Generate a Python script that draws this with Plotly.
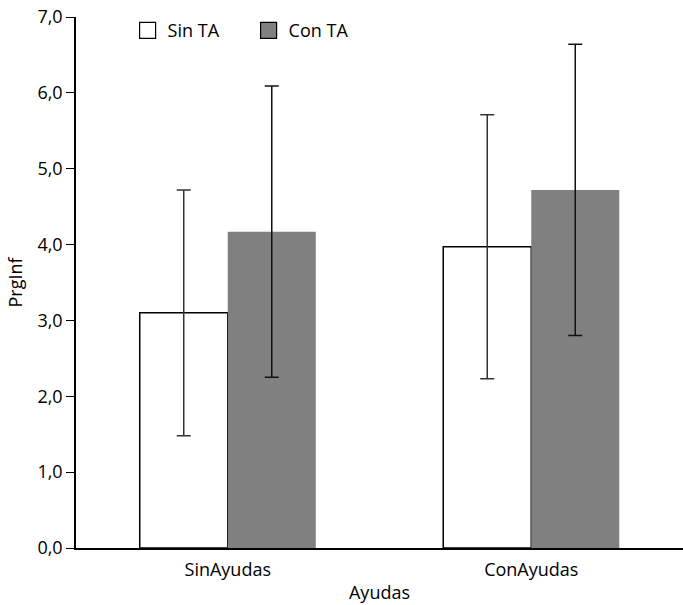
import plotly.graph_objects as go

categories = ["SinAyudas", "ConAyudas"]
sin_ta = [3.10, 3.97]
sin_ta_err = [1.62, 1.74]
con_ta = [4.17, 4.72]
con_ta_err = [1.92, 1.92]
tick_vals = [0, 1, 2, 3, 4, 5, 6, 7]
tick_text = ["0,0", "1,0", "2,0", "3,0", "4,0", "5,0", "6,0", "7,0"]

FONT = "Open Sans"

fig = go.Figure()
fig.add_trace(go.Bar(
    x=categories, y=sin_ta, name="Sin TA", showlegend=False,
    marker=dict(color="white", line=dict(color="black", width=1.5)),
    error_y=dict(type="data", array=sin_ta_err, visible=True,
                 color="#333333", thickness=1.5, width=7),
))
fig.add_trace(go.Bar(
    x=categories, y=con_ta, name="Con TA", showlegend=False,
    marker=dict(color="#808080", line=dict(width=0)),
    error_y=dict(type="data", array=con_ta_err, visible=True,
                 color="#111111", thickness=1.5, width=7),
))
# legend entries
fig.add_trace(go.Scatter(
    x=[None], y=[None], mode="markers", name="Sin TA",
    marker=dict(symbol="square", size=16, color="white",
                line=dict(color="black", width=1.2)),
))
fig.add_trace(go.Scatter(
    x=[None], y=[None], mode="markers", name="Con TA",
    marker=dict(symbol="square", size=16, color="#808080",
                line=dict(color="black", width=1.2)),
))

fig.update_layout(
    width=683, height=605,
    margin=dict(l=76, r=0, t=17, b=57),
    paper_bgcolor="white", plot_bgcolor="white",
    barmode="group", bargap=0.42, bargroupgap=0,
    font=dict(family=FONT, size=18, color="black"),
    showlegend=True,
    legend=dict(orientation="h", x=0.085, y=1.009, xanchor="left", yanchor="top",
                font=dict(size=18), bgcolor="rgba(0,0,0,0)",
                itemwidth=30, entrywidth=76, entrywidthmode="pixels",
                tracegroupgap=0),
    xaxis=dict(
        type="category", range=[-0.5, 1.5],
        showline=True, linecolor="black", linewidth=1.5,
        ticks="", showgrid=False, zeroline=False,
        ticklabelstandoff=5,
        title=dict(text="Ayudas", standoff=6, font=dict(size=18)),
        tickfont=dict(size=18),
    ),
    yaxis=dict(
        range=[0, 7], tickvals=tick_vals, ticktext=tick_text,
        showline=True, linecolor="black", linewidth=1.5,
        ticks="outside", ticklen=8, tickwidth=1.2, tickcolor="black",
        showgrid=False, zeroline=False,
        title=dict(text="PrgInf", standoff=10, font=dict(size=18)),
        tickfont=dict(size=18),
    ),
)

fig.write_html("out.html")
